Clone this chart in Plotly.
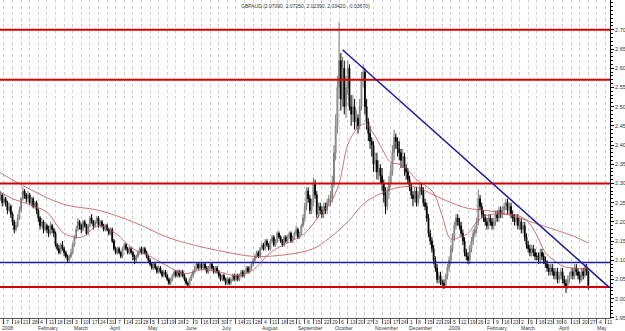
import pandas as pd
import plotly.graph_objects as go

# ---------------- data ----------------
START = "2008-01-02"
FIRST_OPEN = 2.25

close = [
    2.26, 2.27, 2.25,
    2.26, 2.25, 2.23, 2.24, 2.22,
    2.20, 2.18, 2.19, 2.21, 2.23,
    2.26, 2.28, 2.27, 2.26, 2.27,
    2.25, 2.26, 2.24, 2.25, 2.23,
    2.21, 2.19, 2.20, 2.18, 2.19,
    2.18, 2.17, 2.19, 2.18, 2.17,
    2.14, 2.13, 2.12, 2.14, 2.13,
    2.12, 2.11, 2.10, 2.11, 2.12,
    2.14, 2.16, 2.18, 2.20, 2.19,
    2.18, 2.20, 2.19, 2.17, 2.19,
    2.21, 2.20, 2.19, 2.20, 2.21,
    2.19, 2.20, 2.19, 2.18, 2.19,
    2.18, 2.17, 2.18, 2.15, 2.13,
    2.12, 2.13, 2.12, 2.11, 2.13,
    2.14, 2.13, 2.12, 2.13, 2.12,
    2.11, 2.10, 2.11, 2.12, 2.13,
    2.12, 2.13, 2.12, 2.11, 2.10,
    2.09, 2.08, 2.09, 2.08, 2.07,
    2.08, 2.07, 2.06, 2.07, 2.06,
    2.05, 2.04, 2.05, 2.06, 2.07,
    2.06, 2.07, 2.06, 2.07, 2.06,
    2.05, 2.04, 2.035, 2.05, 2.06,
    2.07, 2.08, 2.09, 2.08, 2.09,
    2.08, 2.09, 2.08, 2.07, 2.08,
    2.09, 2.08, 2.07, 2.08, 2.07,
    2.06, 2.05, 2.06, 2.05, 2.04,
    2.05, 2.04, 2.05, 2.06, 2.05,
    2.06, 2.05, 2.06, 2.07, 2.06,
    2.07, 2.08, 2.07, 2.08, 2.09,
    2.10, 2.11, 2.12, 2.11, 2.13,
    2.14, 2.13, 2.15, 2.14, 2.13,
    2.15, 2.16, 2.14, 2.15, 2.17,
    2.16, 2.15, 2.14, 2.16, 2.15,
    2.16, 2.17, 2.15, 2.16, 2.17,
    2.18, 2.16, 2.17, 2.19, 2.21,
    2.24, 2.28, 2.26, 2.23, 2.25,
    2.30, 2.27, 2.22, 2.24, 2.23,
    2.22, 2.24, 2.23, 2.25, 2.26,
    2.26, 2.30, 2.38, 2.45, 2.55,
    2.62, 2.52, 2.60, 2.50, 2.55,
    2.60, 2.50, 2.48, 2.50, 2.46,
    2.47, 2.45, 2.50, 2.57, 2.59,
    2.50, 2.46, 2.43, 2.41, 2.40,
    2.35, 2.36, 2.33, 2.34, 2.32,
    2.30, 2.27, 2.24, 2.28, 2.30,
    2.33, 2.38, 2.42, 2.41, 2.39,
    2.38, 2.36, 2.37, 2.34, 2.33,
    2.31, 2.29, 2.27, 2.26, 2.28,
    2.25, 2.27, 2.29, 2.28, 2.25,
    2.24, 2.21, 2.17, 2.15, 2.13,
    2.10, 2.08, 2.05, 2.06, 2.04,
    2.04, 2.035, 2.06, 2.08, 2.10,
    2.13, 2.16, 2.19, 2.21, 2.20,
    2.19, 2.17, 2.15, 2.12, 2.11,
    2.10, 2.13, 2.15, 2.17, 2.18,
    2.20, 2.26, 2.24, 2.22, 2.21,
    2.20, 2.19, 2.21, 2.20, 2.19,
    2.20, 2.22, 2.21, 2.23, 2.22,
    2.23, 2.24, 2.25, 2.23, 2.24,
    2.22, 2.21, 2.20, 2.21, 2.19,
    2.20, 2.18, 2.19, 2.16, 2.14,
    2.13, 2.12, 2.13, 2.12, 2.11,
    2.11, 2.10, 2.12, 2.11, 2.10,
    2.09, 2.08, 2.07, 2.08, 2.07,
    2.06, 2.07, 2.05, 2.06, 2.07,
    2.05, 2.04, 2.03, 2.05, 2.06,
    2.07, 2.06, 2.08, 2.07, 2.06,
    2.05, 2.07, 2.06, 2.08, 2.0709,
    2.0342,
]

high = [
    2.27, 2.28, 2.275,
    2.27, 2.265, 2.255, 2.25, 2.245,
    2.225, 2.205, 2.20, 2.22, 2.24,
    2.265, 2.29, 2.285, 2.275, 2.28,
    2.275, 2.265, 2.265, 2.255, 2.255,
    2.235, 2.215, 2.21, 2.205, 2.20,
    2.195, 2.19, 2.20, 2.195, 2.185,
    2.175, 2.145, 2.14, 2.145, 2.15,
    2.135, 2.125, 2.115, 2.115, 2.13,
    2.145, 2.165, 2.19, 2.21, 2.205,
    2.195, 2.205, 2.205, 2.195, 2.195,
    2.215, 2.22, 2.205, 2.205, 2.215,
    2.215, 2.205, 2.205, 2.195, 2.195,
    2.195, 2.185, 2.185, 2.185, 2.155,
    2.135, 2.135, 2.135, 2.125, 2.135,
    2.145, 2.145, 2.135, 2.135, 2.135,
    2.125, 2.115, 2.115, 2.125, 2.135,
    2.135, 2.135, 2.135, 2.125, 2.115,
    2.105, 2.095, 2.095, 2.095, 2.085,
    2.085, 2.085, 2.075, 2.075, 2.075,
    2.065, 2.055, 2.055, 2.065, 2.075,
    2.075, 2.075, 2.075, 2.075, 2.075,
    2.065, 2.055, 2.045, 2.055, 2.065,
    2.075, 2.085, 2.095, 2.095, 2.095,
    2.095, 2.095, 2.095, 2.085, 2.085,
    2.095, 2.095, 2.085, 2.085, 2.085,
    2.075, 2.065, 2.065, 2.065, 2.055,
    2.055, 2.055, 2.055, 2.065, 2.065,
    2.065, 2.065, 2.065, 2.075, 2.075,
    2.075, 2.085, 2.085, 2.085, 2.095,
    2.105, 2.115, 2.125, 2.125, 2.135,
    2.145, 2.145, 2.155, 2.155, 2.145,
    2.155, 2.165, 2.165, 2.155, 2.175,
    2.175, 2.165, 2.155, 2.165, 2.165,
    2.165, 2.175, 2.175, 2.165, 2.175,
    2.19, 2.185, 2.175, 2.195, 2.22,
    2.25, 2.29, 2.29, 2.27, 2.26,
    2.315, 2.31, 2.28, 2.25, 2.25,
    2.24, 2.25, 2.25, 2.26, 2.27,
    2.28, 2.32, 2.40, 2.48, 2.58,
    2.72, 2.64, 2.63, 2.62, 2.58,
    2.62, 2.61, 2.53, 2.53, 2.52,
    2.49, 2.48, 2.52, 2.59, 2.61,
    2.60, 2.52, 2.47, 2.45, 2.42,
    2.41, 2.38, 2.38, 2.36, 2.35,
    2.34, 2.31, 2.29, 2.29, 2.32,
    2.35, 2.40, 2.44, 2.43, 2.42,
    2.41, 2.39, 2.39, 2.38, 2.35,
    2.34, 2.32, 2.30, 2.28, 2.29,
    2.29, 2.28, 2.30, 2.30, 2.29,
    2.26, 2.25, 2.22, 2.18, 2.16,
    2.14, 2.11, 2.09, 2.07, 2.07,
    2.05, 2.05, 2.065, 2.09, 2.11,
    2.14, 2.17, 2.20, 2.22, 2.22,
    2.21, 2.20, 2.18, 2.16, 2.13,
    2.12, 2.14, 2.16, 2.18, 2.19,
    2.21, 2.285, 2.27, 2.25, 2.23,
    2.22, 2.21, 2.22, 2.22, 2.21,
    2.21, 2.23, 2.23, 2.24, 2.24,
    2.24, 2.25, 2.26, 2.26, 2.25,
    2.25, 2.23, 2.22, 2.22, 2.22,
    2.21, 2.21, 2.20, 2.20, 2.17,
    2.15, 2.14, 2.14, 2.14, 2.13,
    2.12, 2.12, 2.13, 2.13, 2.12,
    2.11, 2.10, 2.09, 2.09, 2.09,
    2.08, 2.08, 2.08, 2.07, 2.08,
    2.08, 2.06, 2.05, 2.06, 2.07,
    2.08, 2.08, 2.09, 2.09, 2.08,
    2.07, 2.08, 2.08, 2.09, 2.09,
    2.0725,
]

low = [
    2.245, 2.255, 2.24,
    2.245, 2.24, 2.22, 2.225, 2.21,
    2.19, 2.17, 2.175, 2.185, 2.205,
    2.225, 2.255, 2.26, 2.25, 2.25,
    2.245, 2.24, 2.235, 2.235, 2.22,
    2.20, 2.18, 2.185, 2.17, 2.175,
    2.17, 2.16, 2.165, 2.17, 2.16,
    2.135, 2.125, 2.115, 2.115, 2.125,
    2.11, 2.105, 2.095, 2.095, 2.105,
    2.115, 2.135, 2.155, 2.175, 2.18,
    2.17, 2.175, 2.185, 2.165, 2.165,
    2.185, 2.195, 2.18, 2.185, 2.195,
    2.185, 2.185, 2.185, 2.175, 2.175,
    2.175, 2.165, 2.165, 2.145, 2.125,
    2.115, 2.115, 2.115, 2.105, 2.105,
    2.125, 2.125, 2.115, 2.115, 2.115,
    2.10, 2.09, 2.095, 2.105, 2.115,
    2.115, 2.115, 2.115, 2.105, 2.095,
    2.085, 2.075, 2.075, 2.075, 2.065,
    2.065, 2.065, 2.055, 2.055, 2.055,
    2.045, 2.035, 2.035, 2.045, 2.055,
    2.055, 2.055, 2.055, 2.055, 2.055,
    2.045, 2.035, 2.03, 2.03, 2.045,
    2.055, 2.065, 2.075, 2.075, 2.075,
    2.075, 2.075, 2.075, 2.065, 2.065,
    2.075, 2.075, 2.065, 2.065, 2.065,
    2.055, 2.045, 2.045, 2.045, 2.035,
    2.035, 2.035, 2.035, 2.045, 2.045,
    2.045, 2.045, 2.045, 2.055, 2.055,
    2.055, 2.065, 2.065, 2.065, 2.075,
    2.085, 2.095, 2.105, 2.105, 2.105,
    2.125, 2.125, 2.125, 2.135, 2.125,
    2.125, 2.145, 2.135, 2.135, 2.145,
    2.155, 2.145, 2.135, 2.135, 2.145,
    2.145, 2.155, 2.145, 2.145, 2.155,
    2.165, 2.155, 2.155, 2.165, 2.185,
    2.20, 2.23, 2.25, 2.22, 2.22,
    2.24, 2.26, 2.21, 2.21, 2.22,
    2.21, 2.21, 2.22, 2.22, 2.24,
    2.24, 2.25, 2.29, 2.36, 2.43,
    2.52, 2.49, 2.50, 2.48, 2.47,
    2.53, 2.49, 2.45, 2.46, 2.44,
    2.44, 2.43, 2.44, 2.49, 2.55,
    2.48, 2.44, 2.41, 2.39, 2.37,
    2.33, 2.33, 2.31, 2.31, 2.30,
    2.28, 2.25, 2.22, 2.23, 2.26,
    2.29, 2.32, 2.36, 2.39, 2.37,
    2.36, 2.34, 2.34, 2.32, 2.31,
    2.30, 2.28, 2.26, 2.24, 2.25,
    2.24, 2.24, 2.26, 2.27, 2.24,
    2.23, 2.20, 2.16, 2.14, 2.12,
    2.09, 2.07, 2.04, 2.04, 2.035,
    2.03, 2.025, 2.03, 2.05, 2.07,
    2.09, 2.12, 2.15, 2.18, 2.19,
    2.18, 2.16, 2.14, 2.11, 2.10,
    2.09, 2.09, 2.12, 2.14, 2.16,
    2.17, 2.19, 2.23, 2.21, 2.20,
    2.19, 2.18, 2.18, 2.19, 2.18,
    2.18, 2.19, 2.20, 2.20, 2.21,
    2.21, 2.22, 2.23, 2.22, 2.22,
    2.21, 2.20, 2.19, 2.19, 2.18,
    2.18, 2.17, 2.17, 2.15, 2.13,
    2.12, 2.11, 2.11, 2.11, 2.10,
    2.10, 2.09, 2.09, 2.10, 2.09,
    2.08, 2.07, 2.06, 2.06, 2.06,
    2.05, 2.05, 2.04, 2.04, 2.05,
    2.04, 2.03, 2.015, 2.025, 2.04,
    2.05, 2.05, 2.05, 2.06, 2.05,
    2.04, 2.045, 2.05, 2.055, 2.06,
    2.0239,
]

# moving averages (sampled weekly from the picture)
long_ma_dates = ["2008-01-02", "2008-01-28", "2008-02-25", "2008-03-24", "2008-04-21",
                 "2008-05-19", "2008-06-09", "2008-06-30", "2008-07-28", "2008-08-25",
                 "2008-09-15", "2008-09-29", "2008-10-13", "2008-10-27", "2008-11-10",
                 "2008-11-24", "2008-12-08", "2008-12-22", "2009-01-05", "2009-01-19",
                 "2009-02-02", "2009-02-16", "2009-03-02", "2009-03-16", "2009-03-30",
                 "2009-04-13", "2009-04-27"]
long_ma = [2.33, 2.285, 2.245, 2.23, 2.20,
           2.16, 2.14, 2.125, 2.11, 2.115,
           2.13, 2.16, 2.20, 2.25, 2.275,
           2.29, 2.29, 2.27, 2.25, 2.235,
           2.23, 2.222, 2.21, 2.195, 2.18,
           2.165, 2.145]

short_ma_dates = ["2008-01-02", "2008-01-14", "2008-01-28", "2008-02-11", "2008-02-25",
                  "2008-03-10", "2008-03-24", "2008-04-07", "2008-04-21", "2008-05-05",
                  "2008-05-19", "2008-06-02", "2008-06-16", "2008-06-30", "2008-07-14",
                  "2008-07-28", "2008-08-11", "2008-08-25", "2008-09-08", "2008-09-22",
                  "2008-09-29", "2008-10-06", "2008-10-13", "2008-10-20", "2008-10-27",
                  "2008-11-03", "2008-11-10", "2008-11-17", "2008-11-24", "2008-12-01",
                  "2008-12-08", "2008-12-15", "2008-12-22", "2008-12-29", "2009-01-05",
                  "2009-01-12", "2009-01-19", "2009-01-26", "2009-02-02", "2009-02-09",
                  "2009-02-16", "2009-02-23", "2009-03-02", "2009-03-09", "2009-03-16",
                  "2009-03-23", "2009-03-30", "2009-04-06", "2009-04-13", "2009-04-20",
                  "2009-04-27"]
short_ma = [2.28, 2.26, 2.245, 2.225, 2.17,
            2.16, 2.19, 2.17, 2.13, 2.11,
            2.085, 2.065, 2.075, 2.07, 2.06,
            2.075, 2.12, 2.145, 2.17, 2.225,
            2.25, 2.30, 2.40, 2.44, 2.455,
            2.43, 2.39, 2.355, 2.35, 2.335,
            2.31, 2.295, 2.275, 2.215, 2.155,
            2.16, 2.17, 2.20, 2.215, 2.22,
            2.22, 2.22, 2.215, 2.20, 2.165,
            2.12, 2.10, 2.085, 2.08, 2.078,
            2.078]

red_levels = [2.70, 2.57, 2.30, 2.03]
blue_level = 2.094
trend_dates = ["2008-10-08", "2009-05-13"]
trend_values = [2.648, 2.030]

y_ticks = [1.95, 2.00, 2.05, 2.10, 2.15, 2.20, 2.25, 2.30, 2.35,
           2.40, 2.45, 2.50, 2.55, 2.60, 2.65, 2.70]
month_names = ["2008", "February", "March", "April", "May", "June", "July", "August",
               "September", "October", "November", "December",
               "2009", "February", "March", "April", "May"]
TITLE = "GBPAUD (2.07090, 2.07250, 2.02390, 2.03420, -0.03670)"

# ---------------- build ----------------
assert len(close) == len(high) == len(low), (len(close), len(high), len(low))
opens = [FIRST_OPEN] + close[:-1]

cal = pd.bdate_range("2007-12-31", "2009-06-30")
base = cal.get_loc(pd.Timestamp(START))


def xi(d):
    return cal.get_loc(pd.Timestamp(d)) - base


x_bars = list(range(len(close)))
X_RANGE = [0.7, 355.6]

week_dates = [pd.Timestamp("2008-01-01")] + list(pd.date_range("2008-01-07", "2009-05-11", freq="W-MON"))
week_idx = [xi(d) for d in week_dates]

month_first = []
for m in pd.date_range("2008-01-01", "2009-05-01", freq="MS"):
    d = cal[cal >= m][0]
    month_first.append(xi(d))

fig = go.Figure()
fig.add_trace(go.Candlestick(
    x=x_bars, open=opens, high=high, low=low, close=close,
    increasing=dict(line=dict(color="#7a7a7a", width=1), fillcolor="#ffffff"),
    decreasing=dict(line=dict(color="#000000", width=1), fillcolor="#000000"),
    whiskerwidth=0, showlegend=False, hoverinfo="skip",
))
fig.add_trace(go.Scatter(x=[xi(d) for d in long_ma_dates], y=long_ma, mode="lines",
                         line=dict(color="#c05050", width=0.8, shape="spline"),
                         showlegend=False, hoverinfo="skip"))
fig.add_trace(go.Scatter(x=[xi(d) for d in short_ma_dates], y=short_ma, mode="lines",
                         line=dict(color="#c05050", width=0.8, shape="spline"),
                         showlegend=False, hoverinfo="skip"))

shapes = []
for lv in red_levels:
    shapes.append(dict(type="line", xref="paper", x0=0, x1=1, yref="y", y0=lv, y1=lv,
                       line=dict(color="#d40000", width=2)))
shapes.append(dict(type="line", xref="paper", x0=0, x1=1, yref="y", y0=blue_level, y1=blue_level,
                   line=dict(color="#1a1a9c", width=1.5)))
shapes.append(dict(type="line", xref="x", x0=xi(trend_dates[0]), x1=xi(trend_dates[1]),
                   yref="y", y0=trend_values[0], y1=trend_values[1],
                   line=dict(color="#1a1a9c", width=1.5)))

ann = []
lab_font = dict(family="Liberation Sans, Arial, sans-serif", size=5, color="#333333")
for d, ix in zip(week_dates, week_idx):
    ann.append(dict(x=max(ix, X_RANGE[0]) + 0.5, y=0, xref="x", yref="paper",
                    xanchor="left", yanchor="top", yshift=0, borderpad=0, text=str(d.day),
                    showarrow=False, font=lab_font))
for name, ix in zip(month_names, month_first):
    ann.append(dict(x=max(ix, X_RANGE[0]) + 0.3, y=0, xref="x", yref="paper",
                    xanchor="left", yanchor="top", yshift=-5.5, borderpad=0, text=name,
                    showarrow=False, font=lab_font))
ann.append(dict(x=0.5, y=1, xref="paper", yref="paper", xanchor="center", yanchor="top",
                yshift=-1, text=TITLE, showarrow=False, font=lab_font))

fig.update_layout(
    width=625, height=331,
    margin=dict(l=0, r=15, t=0, b=13),
    paper_bgcolor="white", plot_bgcolor="white",
    shapes=shapes, annotations=ann,
    xaxis=dict(range=X_RANGE, tickvals=week_idx, showticklabels=False,
               ticks="outside", ticklen=5, tickcolor="#555555", tickwidth=1,
               showgrid=True, gridcolor="#cfcfcf", griddash="dot", gridwidth=1,
               showline=True, linecolor="#555555", linewidth=1, zeroline=False,
               rangeslider=dict(visible=False)),
    yaxis=dict(side="right", range=[1.9495, 2.7777], tickvals=y_ticks,
               ticktext=[f"{v:.2f}" for v in y_ticks],
               ticks="outside", ticklen=3, tickcolor="#000000", tickwidth=1,
               tickfont=dict(family="Liberation Sans, Arial, sans-serif", size=5.5, color="#333333"),
               showgrid=False, showline=True, linecolor="#000000", linewidth=1, zeroline=False,
               minor=dict(dtick=0.01, tick0=1.95, ticks="outside", ticklen=2,
                          tickcolor="#000000", showgrid=False)),
    font=dict(family="Liberation Sans, Arial, sans-serif"),
)

fig.write_html("out.html")
